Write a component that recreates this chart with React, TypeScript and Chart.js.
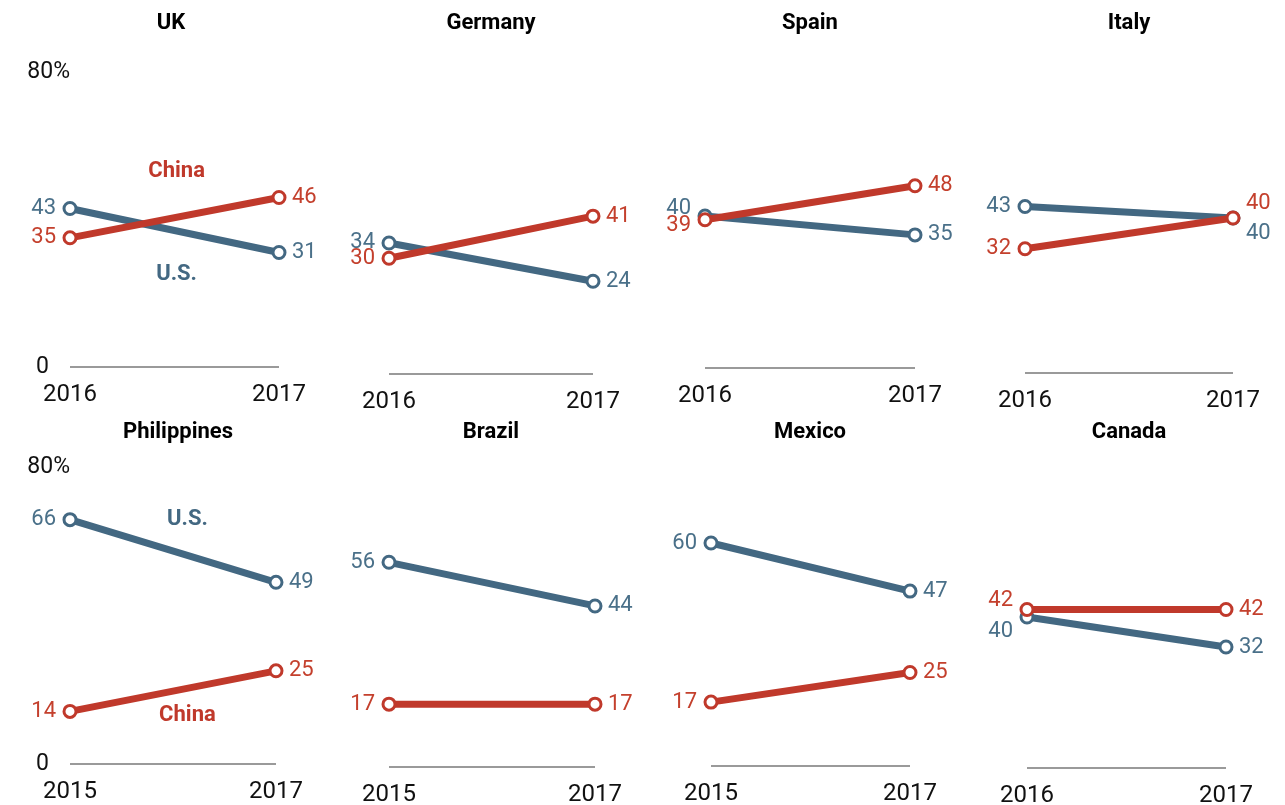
import React, { useEffect, useRef } from 'react';
import { Chart, registerables } from 'chart.js';

Chart.register(...registerables);

// ---------- data ----------
const countries = ['UK', 'Germany', 'Spain', 'Italy', 'Philippines', 'Brazil', 'Mexico', 'Canada'];
const startYears = ['2016', '2016', '2016', '2016', '2015', '2015', '2015', '2016'];
const endYears = ['2017', '2017', '2017', '2017', '2017', '2017', '2017', '2017'];
const usStart = [43, 34, 40, 43, 66, 56, 60, 40];
const usEnd = [31, 24, 35, 40, 49, 44, 47, 32];
const chinaStart = [35, 30, 39, 32, 14, 17, 17, 42];
const chinaEnd = [46, 41, 48, 40, 25, 17, 25, 42];
const yTickLabels = ['0', '80%'];
const yTickValues = [0, 80];
const seriesNames = ['China', 'U.S.'];

// ---------- layout (pixels) ----------
const W = 1285;
const H = 805;
const PANEL_X1 = [70, 389, 705, 1025, 70, 389, 711, 1027];
const PANEL_X2 = [279, 593, 915, 1233, 276, 595, 910, 1226];
const PANEL_Y0 = [366, 373, 367, 372, 763, 766, 765, 767];
const PANEL_Y80 = [73, 67, 65, 64, 468, 475, 469, 467];
const TITLE_X = [171, 491, 810, 1129, 178, 491, 810, 1129];
const TITLE_Y = [23, 23, 23, 23, 432, 432, 432, 432];
// vertical nudges of value labels to avoid overlaps: [leftChina, leftUS, rightChina, rightUS]
const LABEL_NUDGE: Record<number, number[]> = {
  2: [6, -8, 0, 0],
  3: [0, 0, -15, 15],
  7: [-9, 14, 0, 0],
};
// series name annotations: panel, series index, fraction along x, value on y
const NOTES = [
  { panel: 0, s: 0, fx: 0.51, v: 53 },
  { panel: 0, s: 1, fx: 0.51, v: 25 },
  { panel: 4, s: 1, fx: 0.57, v: 66 },
  { panel: 4, s: 0, fx: 0.57, v: 13 },
];

const BLUE = '#436882';
const RED = '#c0392b';
const BLUE_TEXT = '#4a7089';
const RED_TEXT = '#c4402d';
const FONT = 'Roboto, "DejaVu Sans", sans-serif';

function makePlugin(i: number) {
  return {
    id: 'panel' + i,
    beforeDatasetsDraw(chart: any) {
      const ctx = chart.ctx;
      const xs = chart.scales.x;
      const ys = chart.scales.y;
      const y0 = ys.getPixelForValue(0);
      ctx.save();
      ctx.strokeStyle = '#9a9a9a';
      ctx.lineWidth = 2;
      ctx.beginPath();
      ctx.moveTo(xs.getPixelForValue(0), y0 + 1);
      ctx.lineTo(xs.getPixelForValue(1), y0 + 1);
      ctx.stroke();
      ctx.restore();
    },
    afterDatasetsDraw(chart: any) {
      const ctx = chart.ctx;
      const xs = chart.scales.x;
      const ys = chart.scales.y;
      const xa = xs.getPixelForValue(0);
      const xb = xs.getPixelForValue(1);
      ctx.save();
      // title
      ctx.fillStyle = '#000';
      ctx.font = `bold 22px ${FONT}`;
      ctx.textAlign = 'center';
      ctx.textBaseline = 'middle';
      ctx.fillText(countries[i], TITLE_X[i], TITLE_Y[i]);
      // years
      ctx.font = `24px ${FONT}`;
      ctx.fillStyle = '#111';
      const yYear = ys.getPixelForValue(0) + 29;
      ctx.fillText(chart.data.labels[0], xa, yYear);
      ctx.fillText(chart.data.labels[1], xb, yYear);
      // y tick labels in first column
      if (i % 4 === 0) {
        ctx.font = `23px ${FONT}`;
        ctx.textAlign = 'right';
        ctx.fillText(yTickLabels[0], xa - 21, ys.getPixelForValue(yTickValues[0]) + 1);
        ctx.fillText(yTickLabels[1], xa, ys.getPixelForValue(yTickValues[1]) - 1);
      }
      // value labels
      const nudge = LABEL_NUDGE[i] || [0, 0, 0, 0];
      ctx.font = `22px ${FONT}`;
      chart.data.datasets.forEach((ds: any, s: number) => {
        ctx.fillStyle = s === 0 ? RED_TEXT : BLUE_TEXT;
        ctx.textAlign = 'right';
        ctx.fillText(String(ds.data[0]), xa - 14, ys.getPixelForValue(ds.data[0]) + nudge[s]);
        ctx.textAlign = 'left';
        ctx.fillText(String(ds.data[1]), xb + 13, ys.getPixelForValue(ds.data[1]) + nudge[2 + s]);
      });
      // series name notes
      ctx.font = `bold 22px ${FONT}`;
      ctx.textAlign = 'center';
      NOTES.filter((n) => n.panel === i).forEach((n) => {
        ctx.fillStyle = n.s === 0 ? RED : BLUE;
        ctx.fillText(seriesNames[n.s], xa + (xb - xa) * n.fx, ys.getPixelForValue(n.v));
      });
      ctx.restore();
    },
  };
}

function Panel({ i }: { i: number }) {
  const ref = useRef<HTMLCanvasElement | null>(null);
  useEffect(() => {
    if (!ref.current) return;
    const line = (label: string, data: number[], color: string) => ({
      label,
      data,
      borderColor: color,
      backgroundColor: color,
      borderWidth: 7,
      borderJoinStyle: 'round' as const,
      borderCapStyle: 'round' as const,
      pointRadius: 6,
      pointBorderWidth: 3,
      pointBackgroundColor: '#ffffff',
      pointBorderColor: color,
      fill: false,
      tension: 0,
      clip: false as const,
    });
    const chart = new Chart(ref.current, {
      type: 'line',
      data: {
        labels: [startYears[i], endYears[i]],
        datasets: [
          line(seriesNames[0], [chinaStart[i], chinaEnd[i]], RED),
          line(seriesNames[1], [usStart[i], usEnd[i]], BLUE),
        ],
      },
      options: {
        responsive: false,
        animation: false,
        events: [],
        layout: {
          padding: {
            left: PANEL_X1[i],
            right: W - PANEL_X2[i],
            top: PANEL_Y80[i],
            bottom: H - PANEL_Y0[i],
          },
        },
        scales: {
          x: { display: false, offset: false },
          y: { display: false, min: 0, max: 80 },
        },
        plugins: { legend: { display: false }, tooltip: { enabled: false } },
      },
      plugins: [makePlugin(i)],
    } as any);
    return () => chart.destroy();
  }, [i]);
  return (
    <canvas
      ref={ref}
      width={W}
      height={H}
      style={{ position: 'absolute', left: 0, top: 0, width: W, height: H }}
    />
  );
}

export default function App() {
  return (
    <div style={{ position: 'absolute', left: 0, top: 0, width: W, height: H, background: '#fff' }}>
      {countries.map((_, i) => (
        <Panel key={i} i={i} />
      ))}
    </div>
  );
}
